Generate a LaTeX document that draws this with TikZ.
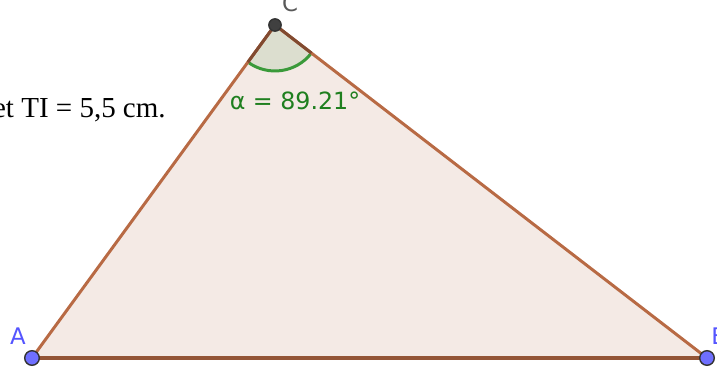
\documentclass[tikz,border=0pt]{standalone}
\usepackage{fontspec}
\usetikzlibrary{calc}
\setmainfont{Liberation Serif}
\newfontfamily\ggfont{DejaVu Sans}
\definecolor{trifill}{HTML}{F4EAE5}
\definecolor{triedge}{HTML}{B86A44}
\definecolor{angfill}{HTML}{DCDECF}
\definecolor{angedge}{HTML}{3A9A3A}
\definecolor{angtext}{HTML}{1F7F1F}
\definecolor{ptblue}{HTML}{6F6FFF}
\definecolor{lblblue}{HTML}{5555FF}
\begin{document}
\begin{tikzpicture}[x=0.02cm,y=-0.02cm,
  edge/.style={draw=triedge,line width=1.7pt},
  ptdot/.style={circle,inner sep=0pt,minimum size=8.3pt,line width=0.8pt},
  lbl/.style={font=\ggfont\fontsize{13}{15}\selectfont,inner sep=0pt}]
\useasboundingbox (0,0) rectangle (717,367);
\coordinate (A) at (32,358);
\coordinate (B) at (707,358);
\coordinate (C) at (275,25);
\fill[trifill] (A) -- (B) -- (C) -- cycle;
\fill[angfill] (C) -- ++(233.9:0.92cm) arc[start angle=233.9,end angle=322.4,radius=0.92cm] -- cycle;
\draw[angedge,line width=1.7pt] ($(C)+(233.9:0.92cm)$) arc[start angle=233.9,end angle=322.4,radius=0.92cm];
\draw[edge,draw=triedge!80!black,line width=2pt] (A) -- (B);
\draw[edge] (B) -- (C);
\draw[edge] (C) -- (A);
\draw[triedge!70!black,line width=1.7pt] (C) -- ($(C)+(233.9:0.92cm)$);
\draw[triedge!70!black,line width=1.7pt] (C) -- ($(C)+(322.4:0.92cm)$);
\node[ptdot,fill=ptblue,draw=black!80] (pA) at (A) {};
\node[ptdot,fill=ptblue,draw=black!80] (pB) at (B) {};
\node[ptdot,minimum size=7pt,fill=black!75,draw=black!80] (pC) at (C) {};
\node[lbl,text=lblblue] (lA) at (18,336) {A};
\node[lbl,text=lblblue,anchor=west] (lB) at (711,336) {B};
\node[lbl,text=black!65] (lC) at (290,3) {C};
\node[font=\ggfont\fontsize{13.5}{16}\selectfont,text=angtext,inner sep=0pt] (alpha) at (295,101) {α = 89.21°};
\node[font=\fontsize{16.5}{19}\selectfont,anchor=east,inner sep=0pt] (txt) at (166,110) {et TI = 5,5 cm.};
\end{tikzpicture}
\end{document}
